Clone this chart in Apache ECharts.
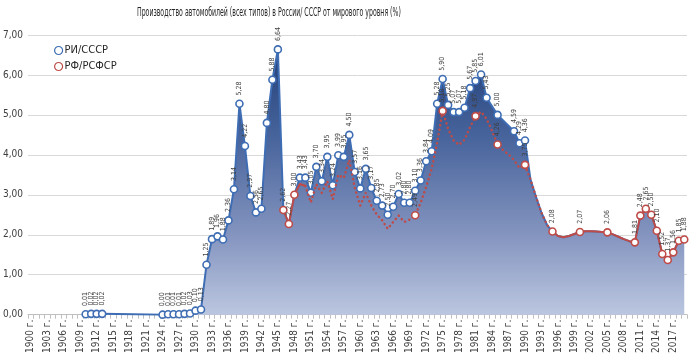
<!DOCTYPE html>
<html><head><meta charset="utf-8">
<script src="https://cdn.jsdelivr.net/npm/echarts@6/dist/echarts.min.js"></script>
<style>html,body{margin:0;padding:0;background:#fff}#c{width:700px;height:356px}</style>
</head><body><div id="c"></div>
<script>
const titleText = 'Производство автомобилей (всех типов) в России/ СССР от мирового уровня (%)';
const seriesNames = ['РИ/СССР', 'РФ/РСФСР'];
const firstYear = 1900, lastYear = 2019;
const years = [];
for (let y = firstYear; y <= lastYear; y++) years.push(y);
const xLabels = years.map(y => y + ' г.');

const ussrYears = [1910,1911,1912,1913,1924,1925,1926,1927,1928,1929,1930,1931,1932,1933,1934,1935,1936,1937,1938,1939,1940,1941,1942,1943,1944,1945,
  1949,1950,1951,1952,1953,1954,1955,1956,1957,1958,1959,1960,1961,1962,1963,1964,1965,1966,1967,1968,1969,1970,1971,1972,1973,1974,1975,1976,1977,1978,1979,1980,1981,1982,1983,1985,1988,1989,1990];
const ussrValues = [0.01,0.02,0.02,0.02,0.00,0.01,0.01,0.01,0.02,0.03,0.10,0.13,1.25,1.89,1.96,1.88,2.36,3.14,5.28,4.22,2.97,2.56,2.65,4.80,5.88,6.64,
  3.43,3.43,3.05,3.70,3.34,3.95,3.24,3.99,3.95,4.50,3.57,3.16,3.65,3.17,2.85,2.73,2.50,2.70,3.02,2.80,2.80,3.10,3.36,3.84,4.09,5.28,5.90,5.25,5.07,5.07,5.18,5.67,5.85,6.01,5.43,5.00,4.59,4.29,4.36];

const rsfsrYears = [1946,1947,1948,1949,1950,1951,1952,1953,1954,1955,1956,1957,1958,1959,1960,1961,1962,1963,1964,1965,1966,1967,1968,1969,1970,
  1971,1972,1973,1974,1975,1976,1977,1978,1979,1980,1981,1982,1983,1984,1985,1986,1987,1988,1989,1990,1991,1992,1993,1994,1995,
  1996,1997,1998,1999,2000,2001,2002,2003,2004,2005,2006,2007,2008,2009,2010,2011,2012,2013,2014,2015,2016,2017,2018,2019];
const rsfsrValues = [2.62,2.27,3.00,3.27,3.22,2.81,3.26,3.05,3.34,2.89,3.50,3.42,3.87,3.18,2.73,3.05,2.73,2.51,2.36,2.15,2.32,2.48,2.32,2.38,2.49,
  2.80,3.20,3.65,4.30,5.10,4.65,4.36,4.25,4.38,4.69,4.97,5.08,4.90,4.60,4.26,4.12,4.01,3.87,3.67,3.75,3.38,2.95,2.55,2.25,2.08,
  1.97,1.94,1.97,2.02,2.07,2.09,2.09,2.08,2.07,2.06,2.01,1.95,1.89,1.84,1.81,2.48,2.65,2.50,2.10,1.52,1.37,1.56,1.85,1.88];
const rsfsrMarkerYears = [1946,1947,1948,1970,1975,1981,1985,1990,1995,2000,2005,2010,2011,2012,2013,2014,2015,2016,2017,2018,2019];
// segments of the RSFSR line: solid / dotted / solid
const rsfsrSegments = [[1946,1950,'solid'],[1950,1995,'dotted'],[1995,2019,'solid']];
// years where the filled area follows the RSFSR line
const areaFromRsfsr = [[1946,1948],[1991,2019]];

const yTicks = [0,1,2,3,4,5,6,7];

const BLUE = '#3e6db4', RED = '#be4b48';
const FONT = "'Liberation Sans Narrow','DejaVu Sans Condensed','Roboto Condensed','Liberation Sans',sans-serif";
const fmt = v => Number(v).toFixed(2).replace('.', ',');

const ussrMap = {}; ussrYears.forEach((y,i) => ussrMap[y] = ussrValues[i]);
const rsfsrMap = {}; rsfsrYears.forEach((y,i) => rsfsrMap[y] = rsfsrValues[i]);
const inRanges = (y, rs) => rs.some(r => y >= r[0] && y <= r[1]);

const smallLabel = {show:true, position:'top', distance:4, rotate:90, align:'left', verticalAlign:'middle',
  fontSize:7, color:'#404040', fontFamily:FONT, formatter: p => fmt(p.value)};

const areaData = years.map(y => {
  if (ussrMap[y] !== undefined) return {value: ussrMap[y]};
  if (inRanges(y, areaFromRsfsr) && rsfsrMap[y] !== undefined) return {value: rsfsrMap[y], symbol:'none', label:{show:false}};
  return null;
});

const series = [{
  name: seriesNames[0], type:'line', data: areaData, connectNulls:true,
  symbol:'circle', symbolSize:7, showAllSymbol:true,
  itemStyle:{color:'#fff', borderColor:BLUE, borderWidth:1.6},
  lineStyle:{color:BLUE, width:2},
  areaStyle:{opacity:1, color:{type:'linear', global:true, x:0, y:35, x2:0, y2:320,
    colorStops:[{offset:0,color:'#1d3a74'},{offset:0.35,color:'#46639b'},{offset:0.7,color:'#8494bf'},{offset:1,color:'#bfcae2'}]}},
  label: smallLabel, z:2
}];
rsfsrSegments.forEach(seg => {
  const data = years.map(y => {
    if (y < seg[0] || y > seg[1] || rsfsrMap[y] === undefined) return null;
    const marked = rsfsrMarkerYears.includes(y) && (seg[2] === 'solid' || (y !== seg[0] && y !== seg[1]) || y === 1990);
    return marked ? {value: rsfsrMap[y]} : {value: rsfsrMap[y], symbol:'none', label:{show:false}};
  });
  series.push({
    name: seriesNames[1], type:'line', data, connectNulls:true,
    symbol:'circle', symbolSize:7, showAllSymbol:true,
    itemStyle:{color:'#fff', borderColor:RED, borderWidth:1.6},
    lineStyle: seg[2] === 'solid' ? {color:RED, width:2} : {color:RED, width:2.5, type:[0.1,4.5], cap:'round'},
    label: smallLabel, z:3
  });
});

const chart = echarts.init(document.getElementById('c'), null, {renderer:'canvas'});
chart.setOption({
  animation:false,
  backgroundColor:'#fff',
  graphic:[{type:'text', x:137, y:6, scaleX:0.53, style:{text:titleText, font:'13px ' + FONT, fill:'#262626'}}],
  legend:{
    orient:'vertical', left:49, top:40, itemGap:5, itemWidth:8, itemHeight:8,
    textStyle:{fontSize:11, color:'#262626', fontFamily:FONT, padding:[0,0,0,-3]},
    data:[
      {name:seriesNames[0], icon:'circle', itemStyle:{color:'#fff', borderColor:BLUE, borderWidth:1.2}},
      {name:seriesNames[1], icon:'circle', itemStyle:{color:'#fff', borderColor:RED, borderWidth:1.2}}
    ]
  },
  grid:{left:26, right:13, top:35, bottom:36},
  xAxis:{
    type:'category', data:xLabels, boundaryGap:true,
    axisLine:{lineStyle:{color:'#bfbfbf'}},
    axisTick:{show:true, interval:0, length:4, lineStyle:{color:'#bfbfbf'}},
    axisLabel:{interval:2, rotate:90, fontSize:10, color:'#404040', fontFamily:FONT, margin:5}
  },
  yAxis:{
    type:'value', min:yTicks[0], max:yTicks[yTicks.length-1], interval:1,
    axisLine:{show:false}, axisTick:{show:false},
    splitLine:{lineStyle:{color:'#d9d9d9'}},
    axisLabel:{formatter: v => fmt(v), fontSize:10, color:'#404040', fontFamily:FONT, margin:5}
  },
  series
});
</script></body></html>
